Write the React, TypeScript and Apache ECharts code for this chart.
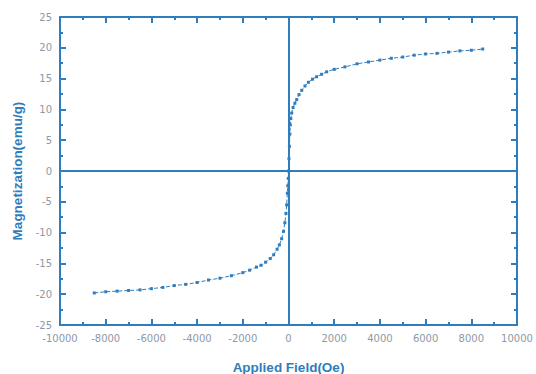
import React, { useEffect, useRef } from "react";
import * as echarts from "echarts";

const fieldOe: number[] = [
  -8500, -8000, -7500, -7000, -6500, -6000, -5500, -5000, -4500, -4000, -3500, -3000, -2500, -2000, -1700,
  -1400, -1200, -1000, -800, -650, -500, -400, -300, -220, -160, -110, -80, -50, -30, -10, 0, 20, 40, 60,
  80, 100, 140, 200, 280, 360, 460, 580, 720, 870, 1050, 1230, 1450, 1670, 2000, 2470, 3000, 3500, 4000,
  4500, 5000, 5500, 6000, 6500, 7000, 7500, 8000, 8500,
];
const magnetization: number[] = [
  -19.8, -19.6, -19.5, -19.4, -19.3, -19.1, -18.9, -18.6, -18.4, -18.1, -17.7, -17.4, -17.0, -16.5, -16.1,
  -15.6, -15.3, -14.8, -14.2, -13.6, -12.7, -12.0, -11.0, -9.8, -8.4, -6.9, -5.5, -3.6, -2.4, -1.2, 0.0,
  2.0, 4.0, 6.0, 7.5, 8.5, 9.4, 10.3, 11.0, 11.6, 12.4, 13.1, 13.8, 14.4, 14.9, 15.3, 15.7, 16.1, 16.5,
  16.9, 17.4, 17.7, 18.0, 18.3, 18.5, 18.8, 19.0, 19.1, 19.3, 19.5, 19.6, 19.8,
];

const xRange = { min: -10000, max: 10000, interval: 2000 };
const yRange = { min: -25, max: 25, interval: 5 };
const xAxisTitle = "Applied Field(Oe)";
const yAxisTitle = "Magnetization(emu/g)";

const BLUE = "#2f7dbd";
const LABEL = "#8d99a6";

export default function App() {
  const ref = useRef<HTMLDivElement>(null);
  useEffect(() => {
    document.body.style.margin = "0";
    if (!ref.current) return;
    const chart = echarts.init(ref.current, undefined, { renderer: "svg", width: 536, height: 374 });
    const axisCommon = {
      axisLine: { show: true, onZero: false, lineStyle: { color: BLUE, width: 2 } },
      axisTick: { show: true, inside: true, length: 6, lineStyle: { color: BLUE, width: 2 } },
      minorTick: { show: true, splitNumber: 2, length: 3, lineStyle: { color: BLUE, width: 2 } },
      splitLine: { show: false },
    };
    const labelStyle = {
      color: LABEL,
      fontSize: 10,
      fontFamily: "DejaVu Sans, Liberation Sans, sans-serif",
      formatter: (v: number) => String(v),
    };
    const nameStyle = { color: BLUE, fontSize: 13.5, fontWeight: "bold", fontFamily: "Liberation Sans, Arial, sans-serif" };
    chart.setOption({
      animation: false,
      backgroundColor: "#ffffff",
      grid: { left: 60, right: 19, top: 17, bottom: 49, containLabel: false, outerBoundsMode: "none" },
      xAxis: [
        {
          type: "value",
          ...xRange,
          position: "bottom",
          ...axisCommon,
          axisLabel: { ...labelStyle, margin: 8 },
          name: xAxisTitle,
          nameLocation: "middle",
          nameGap: 35,
          nameTextStyle: nameStyle,
        },
        {
          type: "value",
          ...xRange,
          position: "top",
          ...axisCommon,
          axisLabel: { show: false },
        },
      ],
      yAxis: [
        {
          type: "value",
          ...yRange,
          position: "left",
          ...axisCommon,
          axisLabel: { ...labelStyle, margin: 8 },
          name: yAxisTitle,
          nameLocation: "middle",
          nameGap: 36,
          nameTextStyle: nameStyle,
        },
        {
          type: "value",
          ...yRange,
          position: "right",
          ...axisCommon,
          axisLabel: { show: false },
        },
      ],
      series: [
        {
          type: "line",
          data: fieldOe.map((h, i) => [h, magnetization[i]]),
          symbol: "rect",
          symbolSize: 3,
          showSymbol: true,
          itemStyle: { color: BLUE },
          lineStyle: { color: BLUE, width: 1, type: [4, 2] },
          markLine: {
            silent: true,
            symbol: "none",
            label: { show: false },
            lineStyle: { color: BLUE, width: 2, type: "solid" },
            data: [{ xAxis: 0 }, { yAxis: 0 }],
          },
        },
      ],
    });
    return () => chart.dispose();
  }, []);
  return <div ref={ref} style={{ width: 536, height: 374, position: "fixed", left: 0, top: 0 }} />;
}
